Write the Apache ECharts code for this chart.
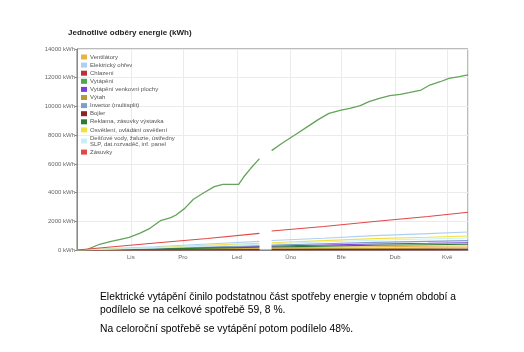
<!DOCTYPE html>
<html><head><meta charset="utf-8">
<script src="https://cdn.jsdelivr.net/npm/echarts@6/dist/echarts.min.js"></script>
<style>html,body{margin:0;padding:0;background:#fff}#c{width:524px;height:352px}</style>
</head><body><div id="c"></div>
<script>
const monthNames = ['Led','Úno','Bře','Dub','Kvě','Čvn','Čvc','Srp','Zář','Říj','Lis','Pro'];
const yTicks = [0, 2000, 4000, 6000, 8000, 10000, 12000, 14000];

const seriesNames = ['Ventilátory','Elektrický ohřev','Chlazení','Vytápění','Vytápění venkovní plochy','Výtah','Invertor (multisplit)','Bojler','Reklama, zásuvky výstavka','Osvětlení, ovládání osvětlení','Dešťové vody, žaluzie, ústředny\nSLP, dat.rozvaděč, inf. panel','Zásuvky'];
const seriesColors = ['#e8b440','#aed0f0','#c0303a','#4fa84a','#7a3fd8','#b89a3a','#7f9fcb','#8e2424','#2e7a34','#f2e040','#c8f0f4','#e04848'];

// Vytápění (heating) cumulative kWh
const heatDates = ['2011-10-01','2011-10-07','2011-10-14','2011-10-20','2011-10-26','2011-10-31','2011-11-06','2011-11-12','2011-11-18','2011-11-24','2011-11-27','2011-12-02','2011-12-07','2011-12-13','2011-12-19','2011-12-24','2012-01-02','2012-01-05','2012-01-09','2012-01-14','2012-01-17','2012-01-21','2012-01-27','2012-02-04','2012-02-12','2012-02-17','2012-02-23','2012-03-01','2012-03-06','2012-03-12','2012-03-17','2012-03-23','2012-03-29','2012-04-04','2012-04-09','2012-04-16','2012-04-21','2012-04-27','2012-05-02','2012-05-08','2012-05-13'];
const heatValues = [0,50,400,580,745,885,1160,1510,2040,2250,2440,2900,3530,3990,4410,4575,4575,5100,5690,6360,null,6920,7430,8060,8700,9100,9520,9750,9870,10050,10330,10560,10750,10840,10960,11140,11490,11720,11960,12070,12190];

// Other consumers, cumulative kWh
const otherDates = ['2011-10-01','2011-11-15','2011-12-15','2012-01-14','2012-01-17','2012-01-21','2012-02-20','2012-03-20','2012-04-20','2012-05-13'];
const ventilatory  = [0, 50, 90, 130, null, 150, 190, 230, 260, 280];
const ohrev        = [0, 230, 420, 600, null, 660, 820, 1000, 1140, 1250];
const chlazeni     = [0, 0, 0, 0, null, 0, 0, 5, 10, 20];
const venkovni     = [0, 90, 170, 240, null, 270, 350, 420, 470, 510];
const vytah        = [0, 25, 45, 65, null, 75, 95, 115, 130, 140];
const invertor     = [0, 110, 210, 300, null, 340, 440, 530, 600, 650];
const bojler       = [0, 10, 20, 25, null, 30, 35, 40, 45, 50];
const reklama      = [0, 70, 130, 190, null, 210, 270, 330, 370, 400];
const osvetleni    = [0, 170, 320, 460, null, 510, 650, 790, 890, 975];
const destove      = [0, 150, 280, 400, null, 440, 560, 680, 770, 835];
const zasuvky      = [0, 490, 800, 1160, null, 1320, 1640, 1990, 2330, 2625];

const titleText = 'Jednotlivé odběry energie (kWh)';
const noteText1 = 'Elektrické vytápění činilo podstatnou část spotřeby energie v topném období a\npodílelo se na celkové spotřebě 59, 8 %.';
const noteText2 = 'Na celoroční spotřebě se vytápění potom podílelo 48%.';

const xMin = '2011-10-01', xMax = '2012-05-13';

function pairs(dates, vals){ return dates.map((d,i)=>[d, vals[i] === null ? '-' : vals[i]]); }

const valueSets = [
  [otherDates, ventilatory],[otherDates, ohrev],[otherDates, chlazeni],[heatDates, heatValues],
  [otherDates, venkovni],[otherDates, vytah],[otherDates, invertor],[otherDates, bojler],
  [otherDates, reklama],[otherDates, osvetleni],[otherDates, destove],[otherDates, zasuvky]
];

const series = seriesNames.map((name,i)=>({
  name: name, type:'line', showSymbol:false, symbol:'none',
  connectNulls:false, animation:false,
  color: seriesColors[i],
  lineStyle:{ width: i===3 ? 1.3 : 1.1, color: i===3 ? '#64a45a' : seriesColors[i] },
  data: pairs(valueSets[i][0], valueSets[i][1])
}));

const minTime = echarts.time.parse(xMin).getTime();

const chart = echarts.init(document.getElementById('c'), null, {renderer:'canvas'});
chart.setOption({
  animation:false,
  backgroundColor:'#fff',
  textStyle:{fontFamily:'Liberation Sans, Arial, sans-serif'},
  title:{ text:titleText, left:63, top:24, textStyle:{fontSize:8, fontWeight:'bold', color:'#222'} },
  grid:{ left:77, right:56, top:49, bottom:102, show:true, borderColor:'#777', borderWidth:1, containLabel:false },
  legend:{
    orient:'vertical', left:76, top:49, icon:'rect', itemWidth:6, itemHeight:5, itemGap:2.1,
    textStyle:{fontSize:6, color:'#555', lineHeight:6, padding:[0,0,0,-2]}, selectedMode:false
  },
  xAxis:{
    type:'time', min:xMin, max:xMax,
    splitNumber:7, minInterval:28*864e5, maxInterval:31*864e5,
    axisLine:{lineStyle:{color:'#888'}}, axisTick:{show:false},
    axisLabel:{ fontSize:6, color:'#666', margin:4, hideOverlap:false,
      formatter:function(v){ return v <= minTime ? '' : monthNames[new Date(v).getMonth()]; } },
    splitLine:{show:true, lineStyle:{color:'#ebebeb'}}
  },
  yAxis:{
    type:'value', min:yTicks[0], max:yTicks[yTicks.length-1], interval:2000,
    axisLine:{show:true, lineStyle:{color:'#888'}}, axisTick:{show:true, length:2, lineStyle:{color:'#888'}},
    axisLabel:{ fontSize:6, color:'#666', margin:2, formatter:function(v){ return v + ' kWh'; } },
    splitLine:{show:true, lineStyle:{color:'#ebebeb'}}
  },
  graphic:[
    { type:'text', left:100, top:291, style:{ text:noteText1, fontSize:10.3, lineHeight:12.5, fill:'#000', fontFamily:'Liberation Sans, Arial, sans-serif' } },
    { type:'text', left:100, top:323, style:{ text:noteText2, fontSize:10.3, lineHeight:12.5, fill:'#000', fontFamily:'Liberation Sans, Arial, sans-serif' } }
  ],
  series: series
});
</script></body></html>
